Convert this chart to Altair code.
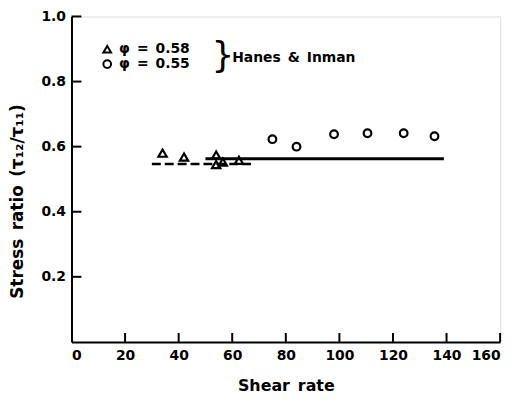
import altair as alt
import pandas as pd

# --- data ---
tri_x = [34, 42, 54, 54, 56.5, 62.5]
tri_y = [0.58, 0.568, 0.574, 0.545, 0.553, 0.558]
circ_x = [75, 84, 98, 110.5, 124, 135.5]
circ_y = [0.623, 0.60, 0.638, 0.641, 0.641, 0.632]
solid_x = [50, 139]
solid_y = [0.563, 0.563]
dash_x = [30, 67]
dash_y = [0.547, 0.547]
x_ticks = [0, 20, 40, 60, 80, 100, 120, 140, 160]
y_ticks = [0.2, 0.4, 0.6, 0.8, 1.0]
legend_labels = ["\u03c6\u2002=\u20020.58", "\u03c6\u2002=\u20020.55"]
legend_source = "Hanes\u2002&\u2002Inman"

FONT = "DejaVu Sans"
W, H = 432, 328

xs = alt.Scale(domain=[0, 160], nice=False, zero=True)
ys = alt.Scale(domain=[0, 1], nice=False, zero=True)

tri = pd.DataFrame({"x": tri_x, "y": tri_y})
circ = pd.DataFrame({"x": circ_x, "y": circ_y})
solid = pd.DataFrame({"x": solid_x, "y": solid_y})
dash = pd.DataFrame({"x": dash_x, "y": dash_y})
xt = pd.DataFrame({"x": [v for v in x_ticks if v > 0]})
yt = pd.DataFrame({"y": y_ticks})

x_axis = alt.Axis(values=x_ticks, ticks=False, grid=False, domainColor="black",
                  domainWidth=2, labelFont=FONT, labelFontSize=14, labelFontWeight="bold",
                  labelColor="black", labelPadding=7, title="Shear\u2002rate", titleFont=FONT,
                  titleFontSize=16, titleFontWeight="bold", titleColor="black", titlePadding=15)
y_axis = alt.Axis(values=y_ticks, format=".1f", ticks=False, grid=False, domainColor="black",
                  domainWidth=2, labelFont=FONT, labelFontSize=14, labelFontWeight="bold",
                  labelColor="black", labelPadding=6,
                  title="Stress\u2002ratio\u2002(\u03c4\u2081\u2082/\u03c4\u2081\u2081)",
                  titleFont=FONT, titleFontSize=17, titleFontWeight="bold", titleColor="black",
                  titleAngle=-90, titleX=-54, titleY=186, titleAlign="center", titleBaseline="middle")

base_axes = alt.Chart(solid).mark_line(color="black", strokeWidth=3).encode(
    x=alt.X("x:Q", scale=xs, axis=x_axis),
    y=alt.Y("y:Q", scale=ys, axis=y_axis),
)
dashed = alt.Chart(dash).mark_line(color="black", strokeWidth=2.5, strokeDash=[9, 4]).encode(
    x=alt.X("x:Q", scale=xs), y=alt.Y("y:Q", scale=ys))
tris = alt.Chart(tri).mark_point(shape="triangle-up", filled=False, color="black",
                                 strokeWidth=2.2, size=70, opacity=1).encode(
    x=alt.X("x:Q", scale=xs), y=alt.Y("y:Q", scale=ys))
circs = alt.Chart(circ).mark_point(shape="circle", filled=False, color="black",
                                   strokeWidth=2.2, size=60, opacity=1).encode(
    x=alt.X("x:Q", scale=xs), y=alt.Y("y:Q", scale=ys))

xtick = alt.Chart(xt).mark_rule(color="black", strokeWidth=2).encode(
    x=alt.X("x:Q", scale=xs), y=alt.value(H), y2=alt.value(H - 9))
ytick = alt.Chart(yt).mark_rule(color="black", strokeWidth=2).encode(
    y=alt.Y("y:Q", scale=ys), x=alt.value(0), x2=alt.value(10))

leg_df = pd.DataFrame({"label": legend_labels, "shape": ["triangle-up", "circle"],
                       "py": [33, 48]})
leg_sym = alt.Chart(leg_df).mark_point(filled=False, color="black", strokeWidth=2,
                                       size=60, opacity=1).encode(
    x=alt.value(36), y=alt.Y("py:Q", scale=None),
    shape=alt.Shape("shape:N", scale=None, legend=None))
leg_txt = alt.Chart(leg_df).mark_text(align="left", baseline="middle", font=FONT,
                                      fontSize=14, fontWeight="bold", color="black").encode(
    x=alt.value(48), y=alt.Y("py:Q", scale=None), text="label:N")
brace = alt.Chart(pd.DataFrame({"t": ["}"]})).mark_text(
    align="left", baseline="middle", font=FONT, fontSize=36, fontWeight="normal",
    color="black").encode(x=alt.value(141), y=alt.value(40), text="t:N")
src = alt.Chart(pd.DataFrame({"t": [legend_source]})).mark_text(
    align="left", baseline="middle", font=FONT, fontSize=14, fontWeight="bold",
    color="black").encode(x=alt.value(162), y=alt.value(42), text="t:N")

chart = alt.layer(base_axes, dashed, tris, circs, xtick, ytick, leg_sym, leg_txt, brace, src).properties(
    width=W, height=H,
    autosize=alt.AutoSizeParams(type="none"),
    padding={"left": 64, "top": 7, "right": 15, "bottom": 55},
).configure_view(stroke=None).configure(background="white")

chart.save("out.html", embed_options={"renderer": "svg", "actions": False})
